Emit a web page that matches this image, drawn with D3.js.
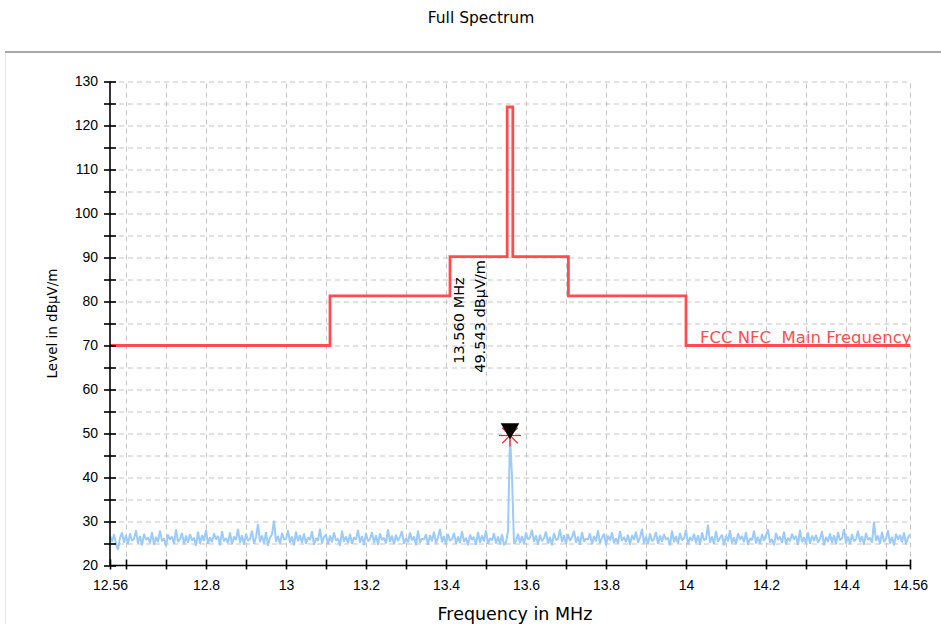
<!DOCTYPE html>
<html>
<head>
<meta charset="utf-8">
<script src="https://cdn.jsdelivr.net/npm/d3@7"></script>
<style>
  body { margin: 0; background: #fff; }
  svg { font-family: "DejaVu Sans", Verdana, sans-serif; }
  .grid line { stroke: #c4c4c4; stroke-dasharray: 5,4; }
  .grid path { display: none; }
  .axis path, .axis line { stroke: #000; stroke-width: 1.6; }
  .axis text { font-size: 14px; fill: #000; }
</style>
</head>
<body>
<script>
var xTicks = [12.56, 12.6, 12.7, 12.8, 12.9, 13, 13.1, 13.2, 13.3, 13.4, 13.5, 13.6, 13.7, 13.8, 13.9, 14, 14.1, 14.2, 14.3, 14.4, 14.5, 14.56];
var xLabels = [12.56, 12.8, 13, 13.2, 13.4, 13.6, 13.8, 14, 14.2, 14.4, 14.56];
var yTicks = [20, 25, 30, 35, 40, 45, 50, 55, 60, 65, 70, 75, 80, 85, 90, 95, 100, 105, 110, 115, 120, 125, 130];
var yLabels = [20, 30, 40, 50, 60, 70, 80, 90, 100, 110, 120, 130];

// FCC limit mask, step after each breakpoint
var limitFreq = [12.56, 13.11, 13.41, 13.553, 13.567, 13.706, 14.0, 14.56];
var limitLevel = [70, 81.3, 90.2, 124.2, 90.2, 81.3, 70, 70];

// measured spectrum, one sample every 5 kHz from 12.56 MHz
var noiseStart = 12.56, noiseStep = 0.005;
var noiseLevel = [
  26.8, 25.4, 27.1, 24.9, 23.6, 26.3, 27.5, 25.2, 26.9, 24.8, 27.3, 25.6, 26.1, 28.0, 25.0, 26.7, 24.6, 27.2, 25.8, 26.4,
  25.1, 27.6, 24.7, 26.5, 25.3, 27.9, 25.5, 26.2, 24.4, 27.0, 25.9, 26.6, 24.9, 28.2, 25.4, 26.0, 27.4, 24.8, 26.8, 25.2,
  27.1, 25.7, 26.3, 24.5, 27.7, 25.0, 26.9, 25.6, 28.1, 24.9, 26.4, 25.3, 27.3, 25.9, 26.7, 24.6, 27.8, 25.5, 26.2, 25.1,
  27.5, 24.8, 26.6, 25.8, 28.3, 25.2, 26.9, 24.7, 27.2, 25.6, 26.1, 27.9, 24.9, 26.5, 29.4, 25.3, 26.8, 25.0, 27.6, 24.5,
  26.3, 27.1, 30.2, 25.4, 26.7, 24.8, 27.4, 25.9, 26.0, 28.0, 25.2, 26.6, 24.6, 27.7, 25.5, 26.9, 25.1, 27.3, 24.9, 26.4,
  25.8, 27.8, 24.7, 26.2, 25.6, 28.4, 25.0, 26.5, 27.0, 24.8, 26.8, 25.3, 27.5, 25.7, 26.1, 24.5, 27.9, 25.4, 26.6, 25.1,
  27.2, 24.9, 26.4, 25.9, 28.1, 25.2, 26.7, 24.6, 27.4, 25.5, 26.0, 27.6, 25.1, 26.9, 24.7, 27.3, 25.8, 26.3, 25.0, 28.2,
  25.4, 26.8, 24.8, 27.0, 25.6, 26.5, 27.8, 24.9, 26.2, 25.3, 27.5, 25.7, 26.6, 24.6, 27.9, 25.2, 26.1, 25.9, 27.1, 24.7,
  26.9, 25.5, 27.7, 25.0, 26.4, 28.3, 25.3, 26.7, 24.8, 27.2, 25.6, 26.0, 27.4, 24.9, 26.6, 25.1, 27.8, 25.4, 26.3, 24.6,
  27.0, 25.8, 26.5, 24.7, 27.6, 25.2, 26.8, 25.5, 28.0, 24.9, 26.2, 25.7, 27.3, 25.0, 26.6, 24.8, 27.1, 24.6, 25.3, 27.8,
  49.5, 40.2, 24.9, 25.6, 27.2, 25.1, 26.7, 24.8, 27.5, 25.9, 26.3, 28.1, 25.4, 26.8, 24.7, 27.0, 25.5, 26.2, 27.7, 25.0,
  26.5, 24.6, 27.4, 25.8, 26.0, 28.2, 25.3, 26.9, 24.9, 27.1, 25.6, 26.4, 27.9, 25.2, 26.6, 24.7, 27.6, 25.4, 26.1, 25.9,
  27.3, 24.8, 26.7, 25.5, 28.0, 25.0, 26.3, 27.2, 24.6, 26.8, 25.7, 27.5, 25.1, 26.2, 24.9, 27.8, 25.6, 26.5, 25.3, 27.0,
  24.7, 26.9, 25.8, 27.7, 25.2, 26.4, 28.3, 25.0, 26.6, 24.8, 27.3, 25.5, 26.1, 27.6, 24.9, 26.8, 25.4, 27.1, 25.9, 26.3,
  24.6, 27.9, 25.3, 26.7, 25.0, 27.4, 25.7, 26.2, 28.1, 24.8, 26.5, 25.6, 27.2, 25.1, 26.9, 24.7, 27.5, 25.8, 26.0, 29.3,
  25.2, 26.6, 24.9, 27.8, 25.4, 26.3, 27.0, 24.6, 26.8, 25.5, 28.0, 25.1, 26.4, 24.8, 27.3, 25.9, 26.7, 25.3, 27.6, 24.7,
  26.2, 25.7, 27.9, 25.0, 26.5, 24.9, 27.1, 25.6, 26.9, 28.2, 25.2, 26.0, 24.6, 27.4, 25.8, 26.6, 25.1, 27.7, 24.8, 26.3,
  25.5, 27.2, 25.9, 26.7, 24.7, 28.1, 25.3, 26.4, 25.0, 27.5, 24.9, 26.8, 25.6, 27.0, 25.2, 26.1, 27.8, 24.6, 26.5, 25.4,
  27.3, 25.1, 26.9, 24.8, 27.6, 25.7, 26.2, 28.3, 25.0, 26.6, 24.9, 27.1, 25.5, 26.0, 27.9, 25.3, 26.7, 24.7, 27.4, 25.8,
  26.3, 25.2, 30.0, 25.6, 26.8, 24.9, 27.7, 25.4, 26.1, 28.0, 25.0, 26.5, 24.6, 27.2, 25.9, 26.9, 25.3, 27.5, 24.8, 26.4,
  27.0
];

var peakFreq = 13.560, peakLevel = 49.543;
var limitName = "FCC NFC  Main Frequency";

var m = { t: 81.5, r: 31, b: 58.5, l: 110 },
  W = 941, H = 624,
  width = W - m.l - m.r,
  height = H - m.t - m.b;

var x = d3.scaleLinear().domain([12.56, 14.56]).range([0, width]);
var y = d3.scaleLinear().domain([20, 130]).range([height, 0]);

var svg = d3.select("body").append("svg")
  .attr("width", W)
  .attr("height", H);

svg.append("text")
  .attr("x", 481)
  .attr("y", 23)
  .attr("text-anchor", "middle")
  .style("font-size", "15.5px")
  .text("Full Spectrum");

svg.append("line")
  .attr("x1", 5).attr("x2", W)
  .attr("y1", 52).attr("y2", 52)
  .style("stroke", "#a8a8a8").style("stroke-width", 2);
svg.append("line")
  .attr("x1", 5.5).attr("x2", 5.5)
  .attr("y1", 53).attr("y2", H)
  .style("stroke", "#e6e6e6").style("stroke-width", 1);

var g = svg.append("g")
  .attr("transform", "translate(" + m.l + "," + m.t + ")");

g.append("clipPath").attr("id", "plot")
  .append("rect").attr("width", width).attr("height", height);

g.append("g")
  .attr("class", "grid")
  .attr("transform", "translate(0," + height + ")")
  .call(d3.axisBottom(x).tickValues(xTicks.slice(1)).tickSize(-height).tickFormat(""));

g.append("g")
  .attr("class", "grid")
  .call(d3.axisLeft(y).tickValues(yTicks.slice(1)).tickSize(-width).tickFormat(""));

var limitLine = d3.line()
  .x(function(d, i) { return x(limitFreq[i]); })
  .y(function(d) { return y(d); })
  .curve(d3.curveStepAfter);

var noiseLine = d3.line()
  .x(function(d, i) { return x(noiseStart + i * noiseStep); })
  .y(function(d) { return y(d); });

var plot = g.append("g").attr("clip-path", "url(#plot)");

plot.append("path")
  .datum(noiseLevel)
  .attr("d", noiseLine)
  .style("fill", "none")
  .style("stroke", "#9ccbf7")
  .style("stroke-width", 2)
  .style("stroke-linejoin", "bevel");

plot.append("path")
  .datum(limitLevel)
  .attr("d", limitLine)
  .style("fill", "none")
  .style("stroke", "#ff4d4f")
  .style("stroke-width", 2.8);

plot.append("text")
  .attr("x", x(14.0) + 14)
  .attr("y", y(70) - 3)
  .attr("xml:space", "preserve")
  .style("white-space", "pre")
  .style("font-size", "16.5px")
  .style("fill", "#ff4d4f")
  .text(limitName);

// peak marker
var px = x(peakFreq), py = y(peakLevel);
[0, 45, 90, 135].forEach(function(a) {
  g.append("line")
    .attr("x1", -11).attr("x2", 11)
    .attr("transform", "translate(" + px + "," + py + ") rotate(" + a + ")")
    .style("stroke", "#ff2020").style("stroke-width", 1.2);
});
g.append("path")
  .attr("d", d3.symbol().type(d3.symbolTriangle).size(150))
  .attr("transform", "translate(" + px + "," + (py - 7) + ") rotate(180)")
  .style("fill", "#000");

g.append("text")
  .attr("transform", "translate(" + (px - 46) + "," + (y(peakLevel) - 115) + ") rotate(-90)")
  .attr("text-anchor", "middle")
  .style("font-size", "14.5px")
  .text(d3.format(".3f")(peakFreq) + " MHz");
g.append("text")
  .attr("transform", "translate(" + (px - 25) + "," + (y(peakLevel) - 119) + ") rotate(-90)")
  .attr("text-anchor", "middle")
  .style("font-size", "14.5px")
  .text(d3.format(".3f")(peakLevel) + " dB\u00b5V/m");

// axes with ticks crossing the line
var xAxis = g.append("g")
  .attr("class", "axis")
  .attr("transform", "translate(0," + height + ")")
  .call(d3.axisBottom(x).tickValues(xTicks).tickSize(5).tickPadding(10)
    .tickFormat(function(d) { return xLabels.indexOf(d) >= 0 ? d3.format("~g")(d) : ""; }));
xAxis.selectAll(".tick line").attr("y1", -6).attr("y2", 4);
xAxis.select(".domain").attr("d", "M0,0H" + width);

var yAxis = g.append("g")
  .attr("class", "axis")
  .call(d3.axisLeft(y).tickValues(yTicks).tickSize(6).tickPadding(6)
    .tickFormat(function(d) { return yLabels.indexOf(d) >= 0 ? d : ""; }));
yAxis.selectAll(".tick line").attr("x1", 6).attr("x2", -6);
yAxis.select(".domain").attr("d", "M0,0V" + height);

svg.append("text")
  .attr("transform", "translate(57," + (m.t + height / 2) + ") rotate(-90)")
  .attr("text-anchor", "middle")
  .style("font-size", "13.5px")
  .text("Level in dB\u00b5V/m");

svg.append("text")
  .attr("x", 515)
  .attr("y", 620)
  .attr("text-anchor", "middle")
  .style("font-size", "17.5px")
  .text("Frequency in MHz");
</script>
</body>
</html>
